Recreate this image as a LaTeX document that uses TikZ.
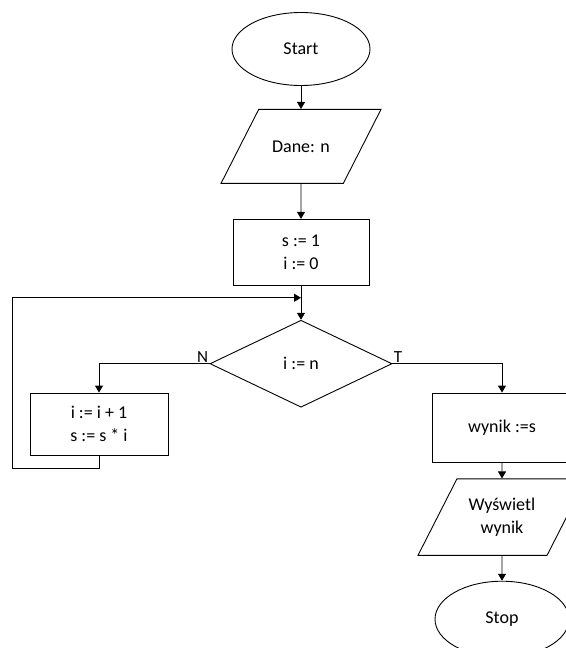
\documentclass[tikz,border=0pt]{standalone}
\usepackage{fontspec}
\setmainfont{Carlito}
\usetikzlibrary{shapes.geometric, arrows.meta, positioning}

\begin{document}
\begin{tikzpicture}[
  x=1pt, y=-1pt,
  font=\fontsize{18}{23}\selectfont,
  line width=0.9pt,
  term/.style={draw, ellipse, minimum width=138pt, minimum height=73pt},
  io/.style={
    draw, trapezium, trapezium left angle=63, trapezium right angle=117,
    trapezium stretches body, minimum width=160pt, inner ysep=31pt,
    align=center
  },
  proc/.style={draw, minimum width=136pt, minimum height=66pt, align=center},
  cond/.style={draw, diamond, aspect=2.1, minimum width=182pt, minimum height=87pt},
  arr/.style={-{Triangle[width=8pt,length=7pt]}},
  lbl/.style={inner sep=1pt, font=\fontsize{17}{20}\selectfont}
]
\useasboundingbox (0,0) rectangle (565,648);

% 1. Start node
\node[term] (start) at (301,49) {Start};

% 2. Input node
\node[io, text height=12pt, text depth=0pt, below=23pt of start] (dane) {Dane: n};

% 3. Init node
\node[proc, below=35pt of dane] (init) {s := 1 \\ i := 0};
\coordinate[below=12pt of init] (join);

% 4. Condition node
\node[cond, below=34pt of init] (test) {i := n};

% 5. Loop body node
\node[proc, minimum width=138pt, minimum height=62pt] (step) at (99,424) {i := i + 1 \\ s := s * i};
\coordinate (back) at (12,468);

% 6. Result nodes
\node[proc, minimum width=140pt, minimum height=69pt] (wynik) at (502,427.5) {wynik :=s};
\node[io, minimum width=168pt, inner ysep=19pt, below=16pt of wynik] (show) {Wyświetl \\ wynik};
\node[term, minimum width=134pt, minimum height=76pt, below=25pt of show] (stop) {Stop};

% Arrows
\draw[arr] (start) -- (dane);
\draw[arr] (dane) -- (init);
\draw[arr] (init) -- (test);
\draw[arr] (test.west) node[lbl, above left] {N} -| (step);
\draw[arr] (test.east) node[lbl, above right] {T} -| (wynik);
\draw[arr] (step.south) |- (back) |- (join);
\draw[arr] (wynik) -- (show);
\draw[arr] (show) -- (stop);

\end{tikzpicture}
\end{document}
